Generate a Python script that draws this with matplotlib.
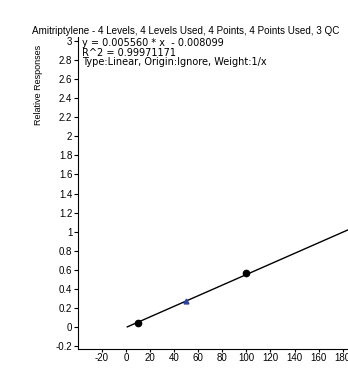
import matplotlib
matplotlib.use("Agg")
import matplotlib.pyplot as plt
import numpy as np

plt.rcParams['font.family'] = ['Liberation Sans', 'DejaVu Sans']
plt.rcParams['axes.unicode_minus'] = False

# calibration data
std_x = [10, 100]
std_y = [0.042, 0.568]
qc_x = [50]
qc_y = [0.27]
slope = 0.005560
intercept = -0.008099
x_ticks = [-20, 0, 20, 40, 60, 80, 100, 120, 140, 160, 180]
y_ticks = [-0.2, 0, 0.2, 0.4, 0.6, 0.8, 1, 1.2, 1.4, 1.6, 1.8, 2, 2.2, 2.4, 2.6, 2.8, 3]

fig = plt.figure(figsize=(3.48, 3.70), dpi=100)
ax = fig.add_axes([0.2241, 0.0568, 0.8296, 0.8443])

fit_x = np.array([1, 200])
ax.plot(fit_x, slope * fit_x + intercept, color='black', lw=1)
ax.plot(std_x, std_y, 'o', color='black', ms=4.5)
ax.plot(qc_x, qc_y, '^', color='#2a44a8', ms=3.5)

ax.set_xlim(-40, 200)
ax.set_ylim(-0.235, 3.05)
ax.set_xticks(x_ticks)
ax.set_yticks(y_ticks)
ax.set_yticklabels([f"{v:g}" for v in y_ticks])
for s in ['top', 'right']:
    ax.spines[s].set_visible(False)
tick_font = ['Liberation Sans Narrow', 'Liberation Sans']
ax.tick_params(axis='y', labelsize=7, length=3, width=0.8, pad=1)
ax.tick_params(axis='x', labelsize=7, length=2, width=0.8, pad=1)
for lab in ax.get_xticklabels() + ax.get_yticklabels():
    lab.set_family(tick_font)

fig.text(0.092, 0.93, "Amitriptylene - 4 Levels, 4 Levels Used, 4 Points, 4 Points Used, 3 QC",
         fontsize=7.1, va='top', ha='left')
ax.text(0.015, 0.995, "y = 0.005560 * x  - 0.008099\nR^2 = 0.99971171\nType:Linear, Origin:Ignore, Weight:1/x",
        transform=ax.transAxes, fontsize=7.0, va='top', ha='left', linespacing=0.95,
        family=['DejaVu Sans'])
fig.text(0.112, 0.77, "Relative Responses", rotation=90, fontsize=6.5, va='center', ha='center')

fig.savefig("out.png", dpi=100)
